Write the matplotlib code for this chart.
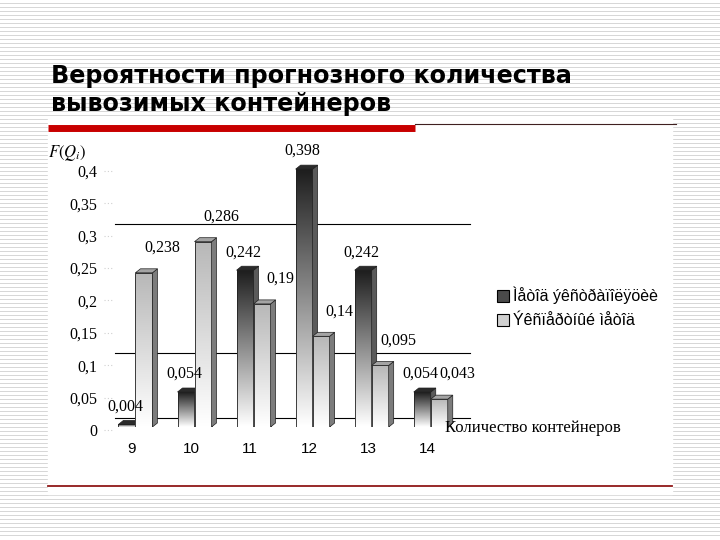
import numpy as np
import matplotlib
matplotlib.use('Agg')
import matplotlib.pyplot as plt
from matplotlib.patches import Polygon, Rectangle, Patch
from matplotlib.transforms import offset_copy

plt.rcParams['mathtext.fontset'] = 'stix'

categories = ['9', '10', '11', '12', '13', '14']
extrap = [0.004, 0.054, 0.242, 0.398, 0.242, 0.054]   # dark series
expert = [0.238, 0.286, 0.19, 0.14, 0.095, 0.043]     # light series
series_names = ['Ìåòîä ýêñòðàïîëÿöèè', 'Ýêñïåðòíûé ìåòîä']
yticks = [0, 0.05, 0.1, 0.15, 0.2, 0.25, 0.3, 0.35, 0.4]
grid_at = [0, 0.1, 0.3]

W, H = 720, 540
fig = plt.figure(figsize=(7.2, 5.4), dpi=100)


def fx(px):
    return px / W


def fy(py):
    return 1 - py / H


# slide background: thin grey stripes, white area under the chart
bg = fig.add_axes([0, 0, 1, 1], zorder=-10)
stripes = np.ones((H, W))
stripes[::4, :] = 0.84
bg.imshow(stripes, cmap='gray', vmin=0, vmax=1, aspect='auto', interpolation='nearest')
bg.add_patch(Rectangle((48, 118), 624, 376, color='white'))
bg.plot([48, 415], [127.5, 127.5], color='#c80000', lw=5, solid_capstyle='butt')
bg.plot([415, 676], [124, 124], color='#402020', lw=0.8)
bg.plot([48, 672], [486, 486], color='#901818', lw=1.3)
bg.text(51, 83, 'Вероятности прогнозного количества', fontsize=17.2, fontweight='bold')
bg.text(51, 111, 'вывозимых контейнеров', fontsize=17.2, fontweight='bold')
bg.set_xlim(0, W)
bg.set_ylim(H, 0)
bg.axis('off')

# chart axes
ax = fig.add_axes([fx(100), fy(427), (478 - 100) / W, (427 - 148.4) / H])
ax.set_xlim(-0.6, 5.8)
ax.set_ylim(0, 0.43)
ax.axis('off')

sx = 378 / 6.4      # px per x unit
sy = 278.6 / 0.43   # px per y unit
bw = 17 / sx
ddx, ddy = 5 / sx, 4 / sy

serif = 'Liberation Serif'
sans = 'Liberation Sans'

grid_tr = offset_copy(ax.transData, fig=fig, x=0, y=9, units='dots')
for g in grid_at:
    ax.plot([-0.35, 5.67], [g, g], color='black', lw=0.8, transform=grid_tr, zorder=1)

ytr = offset_copy(ax.get_yaxis_transform(), fig=fig, x=-3, y=-5, units='dots')
tick_tr = offset_copy(ax.get_yaxis_transform(), fig=fig, x=0, y=-3, units='dots')
for v in yticks:
    ax.text(0, v, ('%g' % v).replace('.', ','), transform=ytr, ha='right', va='center',
            family=serif, fontsize=11.5, clip_on=False)
    ax.plot([0.01, 0.035], [v, v], transform=tick_tr, color='#d0d0d0', lw=0.8,
            ls=(0, (1, 2)), clip_on=False)

xtr = offset_copy(ax.transData, fig=fig, x=0, y=-22, units='dots')
for i, c in enumerate(categories):
    ax.text(i - 0.06, 0, c, transform=xtr, ha='center', va='center', family=sans,
            fontsize=11, clip_on=False)


def bar3d(x0, h, top_col, bot_col, side_col, cap_col, z):
    g = np.linspace(0, 1, 64).reshape(-1, 1, 1)
    img = np.array(top_col) * (1 - g) + np.array(bot_col) * g
    ax.imshow(img, extent=(x0, x0 + bw, 0, h), aspect='auto', origin='upper',
              interpolation='bilinear', zorder=z)
    ax.add_patch(Rectangle((x0, 0), bw, h, fill=False, ec='#202020', lw=0.6, zorder=z + 0.1))
    x1 = x0 + bw
    ax.add_patch(Polygon([(x1, 0), (x1, h), (x1 + ddx, h + ddy), (x1 + ddx, ddy)],
                         fc=side_col, ec='#202020', lw=0.5, zorder=z + 0.1))
    ax.add_patch(Polygon([(x0, h), (x1, h), (x1 + ddx, h + ddy), (x0 + ddx, h + ddy)],
                         fc=cap_col, ec='#202020', lw=0.5, zorder=z + 0.1))


for i in range(len(categories)):
    bar3d(i - bw, extrap[i], (0.12, 0.12, 0.12), (1, 1, 1), '#5a5a5a', '#2a2a2a', 3)
    bar3d(i, expert[i], (0.72, 0.72, 0.72), (1, 1, 1), '#7c7c7c', '#a4a4a4', 4)

lab_dark = offset_copy(ax.transData, fig=fig, x=-2, y=18, units='dots')
lab_light = offset_copy(ax.transData, fig=fig, x=18, y=25, units='dots')
for i in range(len(categories)):
    ax.text(i - bw / 2, extrap[i], ('%g' % extrap[i]).replace('.', ','), transform=lab_dark,
            ha='center', va='center', family=serif, fontsize=11.5, zorder=10, clip_on=False)
    ax.text(i + bw / 2, expert[i], ('%g' % expert[i]).replace('.', ','), transform=lab_light,
            ha='center', va='center', family=serif, fontsize=11.5, zorder=10, clip_on=False)

fig.text(fx(48), fy(153), '$F(Q_i)$', ha='left', va='center', fontsize=12)
fig.text(fx(445), fy(428), 'Количество контейнеров', ha='left', va='center',
         family=serif, fontsize=12)

handles = [Patch(fc='#4a4a4a', ec='black', lw=0.8), Patch(fc='#d0d0d0', ec='black', lw=0.8)]
fig.legend(handles, series_names, loc='upper left', bbox_to_anchor=(fx(497), fy(287)),
           frameon=False, prop={'family': sans, 'size': 11.5}, handlelength=0.75,
           handleheight=0.75, handletextpad=0.25, labelspacing=0.55, borderpad=0,
           borderaxespad=0)

fig.savefig('out.png', dpi=100)
